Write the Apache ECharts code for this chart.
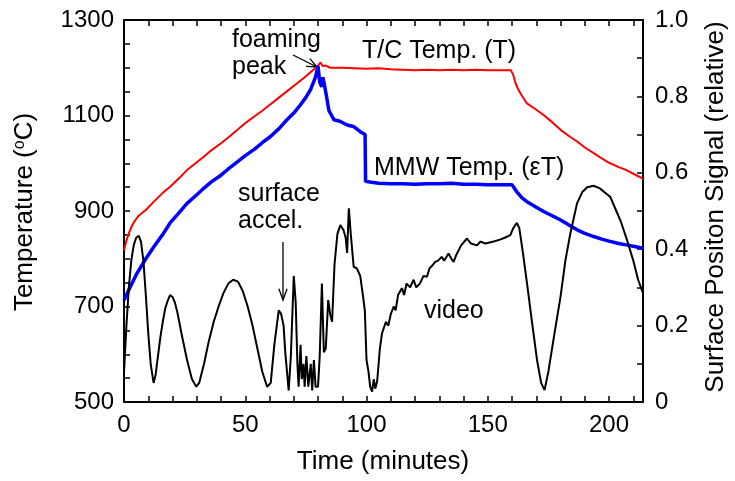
<!DOCTYPE html>
<html><head><meta charset="utf-8">
<script src="https://cdn.jsdelivr.net/npm/echarts@6/dist/echarts.min.js"></script>
<style>html,body{margin:0;padding:0;background:#fff}#c{width:735px;height:481px}</style>
</head><body><div id="c"></div>
<script>
// T/C temperature (time in minutes, °C)
const tcTemp = [[0,818],[1,838],[2,853],[3,866],[4,876],[6,890],[9,902],[12,918],[16,938],[19,951],[23,970],[26,986],[30,1002],[33,1014],[36,1027],[40,1042],[43,1054],[47,1071],[50,1084],[54,1099],[57,1110],[60,1122],[64,1138],[67,1150],[71,1166],[74,1178],[77,1191],[79.6,1202],[81,1211],[82,1203],[83,1205],[85,1200],[90,1200],[95,1199],[100,1198],[105,1199],[110,1197],[115,1196],[120,1195],[125,1196],[130,1195],[135,1196],[140,1195],[145,1196],[150,1195],[155,1195],[159.5,1195],[160.5,1185],[161.5,1167],[162.5,1155],[164,1142],[166,1126],[170,1112],[173,1101],[177,1084],[180,1070],[184,1055],[187,1045],[190,1033],[194,1020],[197,1010],[200,1001],[204,992],[207,986],[210,978],[214,968]];
// MMW temperature (time in minutes, °C)
const mmwTemp = [[0,713],[2,735],[5.4,770],[9,800],[12.3,825],[16,851],[19,875],[23,898],[26,916],[30,934],[33,948],[36,961],[40,975],[43,988],[47,1004],[50,1016],[54,1030],[57,1043],[60.4,1056],[64,1073],[67,1090],[70,1105],[72.7,1122],[75,1138],[77,1155],[79,1181],[80,1204],[80.7,1170],[81.5,1160],[82,1180],[82.6,1165],[83.5,1140],[84.5,1110],[86.6,1091],[89,1088],[92,1080],[94.6,1077],[97.4,1066],[99.4,1060],[99.6,962],[102,960],[105,958],[110,957],[115,957],[120,956],[125,957],[130,957],[135,958],[140,956],[145,956],[150,955],[155,955],[160,955],[162,940],[164,928],[166,920],[170,908],[173,899],[177,889],[180,881],[184,869],[187,860],[190,853],[194,846],[197,841],[200,837],[204,832],[207,829],[210,826],[214,822]];
// video surface position signal (time in minutes, relative)
const videoSignal = [[0,0.076],[1,0.2],[2,0.3],[3,0.37],[4,0.41],[5,0.43],[6.1,0.435],[7,0.42],[8,0.37],[9,0.28],[10,0.18],[11,0.1],[12.2,0.05],[13,0.07],[14,0.12],[15,0.17],[16,0.21],[17,0.245],[18,0.265],[19,0.28],[20,0.275],[21,0.26],[22,0.235],[24,0.17],[26,0.11],[28,0.06],[29.8,0.04],[31,0.05],[33,0.1],[35,0.16],[37,0.21],[39,0.25],[41,0.285],[43,0.31],[45,0.32],[47,0.315],[49,0.29],[51,0.25],[53,0.2],[55,0.14],[57,0.08],[59,0.04],[60.5,0.05],[62,0.15],[63.8,0.24],[64.8,0.23],[65.8,0.2],[66.5,0.13],[67.9,0.03],[68.8,0.12],[70,0.33],[70.8,0.26],[71.5,0.1],[72,0.04],[72.8,0.15],[73.3,0.06],[74,0.1],[74.5,0.04],[75.2,0.12],[76,0.04],[77,0.1],[77.6,0.03],[78.3,0.11],[79,0.04],[80,0.04],[80.7,0.12],[81.6,0.31],[82.4,0.13],[83.2,0.14],[84.2,0.267],[85,0.23],[85.8,0.21],[86.8,0.36],[88,0.44],[89.2,0.463],[90.5,0.45],[91.4,0.43],[92,0.39],[92.7,0.507],[93.5,0.44],[94.7,0.354],[96,0.35],[97.4,0.33],[98.5,0.28],[99.3,0.24],[100,0.11],[100.8,0.08],[101.5,0.04],[102.3,0.027],[103,0.06],[103.6,0.035],[104.4,0.055],[105.5,0.14],[106.4,0.18],[108,0.21],[109,0.2],[110,0.23],[111.2,0.25],[112,0.24],[113,0.28],[114.6,0.298],[115.5,0.28],[116.5,0.31],[118,0.3],[119.4,0.32],[120.5,0.3],[122,0.31],[123.5,0.33],[124.9,0.328],[126,0.35],[127.5,0.36],[128.3,0.367],[129.5,0.37],[131,0.38],[132,0.37],[133.8,0.389],[135,0.375],[135.9,0.367],[137,0.385],[139,0.41],[141.4,0.428],[143,0.415],[145.5,0.41],[147,0.42],[149,0.415],[152.4,0.42],[155,0.425],[157,0.43],[159.3,0.437],[160.5,0.455],[162,0.469],[163,0.455],[164.5,0.39],[166.2,0.31],[168,0.22],[170.3,0.11],[172,0.05],[173.4,0.031],[175,0.08],[177,0.16],[180,0.276],[182,0.37],[184,0.44],[186.8,0.52],[189,0.55],[191,0.562],[193.6,0.566],[196,0.56],[198,0.55],[200.5,0.537],[203,0.5],[205,0.47],[207.4,0.424],[210,0.37],[212,0.32],[214,0.285]];

// tick label sets
const xLabelValues = [0,50,100,150,200];
const tempLabelValues = [500,700,900,1100,1300];
const posLabelValues = ['0','0.2','0.4','0.6','0.8','1.0'];

const FONT = '"Liberation Sans", Arial, Helvetica, sans-serif';
const chart = echarts.init(document.getElementById('c'), null, {renderer:'canvas'});

function arrowHead(x1, y1, x2, y2, len, ang) {
  const a = Math.atan2(y2 - y1, x2 - x1);
  return [[x2 - len * Math.cos(a - ang), y2 - len * Math.sin(a - ang)], [x2, y2], [x2 - len * Math.cos(a + ang), y2 - len * Math.sin(a + ang)]];
}
const lineStyleBlack = {stroke:'#000', lineWidth:1.3, fill:null};
function txt(text, x, y, size, align) {
  return {type:'text', x:x, y:y, silent:true, style:{text:text, font: size + 'px ' + FONT, fill:'#000', align:align || 'left', verticalAlign:'middle'}};
}

const axisLineCommon = {show:true, onZero:false, lineStyle:{color:'#000', width:2}};
const tickCommon = {show:true, inside:true, length:6, lineStyle:{color:'#000', width:1.5}};
const labelCommon = {color:'#000', fontSize:24, fontFamily:FONT, showMaxLabel:true, showMinLabel:true, hideOverlap:false};

const option = {
  animation:false,
  backgroundColor:'#fff',
  grid:{left:124, right:92, top:20, bottom:79, containLabel:false},
  xAxis:[
    {type:'value', min:0, max:214, interval:10, position:'bottom', axisLine:axisLineCommon,
     axisTick:tickCommon, splitLine:{show:false},
     axisLabel:Object.assign({}, labelCommon, {margin:11, showMaxLabel:false,
       formatter:function(v){ return xLabelValues.indexOf(v) >= 0 ? String(v) : ''; }})},
    {type:'value', min:0, max:214, interval:10, position:'top', axisLine:axisLineCommon,
     axisTick:tickCommon, splitLine:{show:false}, axisLabel:{show:false}}
  ],
  yAxis:[
    {type:'value', min:500, max:1300, interval:50, position:'left', axisLine:axisLineCommon,
     axisTick:tickCommon, splitLine:{show:false},
     axisLabel:Object.assign({}, labelCommon, {margin:10,
       formatter:function(v){ return tempLabelValues.indexOf(Math.round(v)) >= 0 ? String(Math.round(v)) : ''; }})},
    {type:'value', min:0, max:1, interval:0.1, position:'right', axisLine:axisLineCommon,
     axisTick:tickCommon, splitLine:{show:false},
     axisLabel:Object.assign({}, labelCommon, {margin:12,
       formatter:function(v){ const s = Math.round(v * 10) === 0 ? '0' : (Math.round(v * 10) / 10).toFixed(1); return posLabelValues.indexOf(s) >= 0 ? s : ''; }})}
  ],
  series:[
    {name:'T/C Temp. (T)', type:'line', xAxisIndex:0, yAxisIndex:0, data:tcTemp, showSymbol:false, symbol:'none',
     lineStyle:{color:'#ff0000', width:2}, z:3},
    {name:'MMW Temp. (εT)', type:'line', xAxisIndex:0, yAxisIndex:0, data:mmwTemp, showSymbol:false, symbol:'none',
     lineStyle:{color:'#0000ff', width:3.5}, z:4},
    {name:'video', type:'line', xAxisIndex:0, yAxisIndex:1, data:videoSignal, showSymbol:false, symbol:'none',
     lineStyle:{color:'#000', width:2}, z:5}
  ],
  graphic:[
    txt('foaming', 232, 40, 25),
    txt('peak', 232, 67, 25),
    {type:'polyline', silent:true, shape:{points:[[293,55],[317,67]]}, style:lineStyleBlack},
    {type:'polyline', silent:true, shape:{points:arrowHead(293,55,317,67,11,0.4)}, style:lineStyleBlack},
    txt('T/C Temp. (T)', 362, 51, 25),
    txt('MMW Temp. (\u03B5T)', 374, 168, 25),
    txt('surface', 238, 194, 25),
    txt('accel.', 238, 221, 25),
    {type:'polyline', silent:true, shape:{points:[[283,242],[283,300]]}, style:lineStyleBlack},
    {type:'polyline', silent:true, shape:{points:arrowHead(283,242,283,300,12,0.35)}, style:lineStyleBlack},
    txt('video', 424, 311, 25),
    txt('Time (minutes)', 383, 462, 26, 'center'),
    {type:'text', x:25, y:212, rotation:Math.PI/2, silent:true,
     style:{text:'{a|Temperature (}{s|o}{a|C)}', align:'center', verticalAlign:'middle',
       rich:{a:{fontSize:26, fontFamily:FONT, fill:'#000'}, s:{fontSize:16, fontFamily:FONT, fill:'#000', verticalAlign:'top'}}}},
    {type:'text', x:716, y:207, rotation:Math.PI/2, silent:true,
     style:{text:'Surface Positon Signal (relative)', font:'26px ' + FONT, fill:'#000', align:'center', verticalAlign:'middle'}}
  ]
};
chart.setOption(option);
</script>
</body></html>
